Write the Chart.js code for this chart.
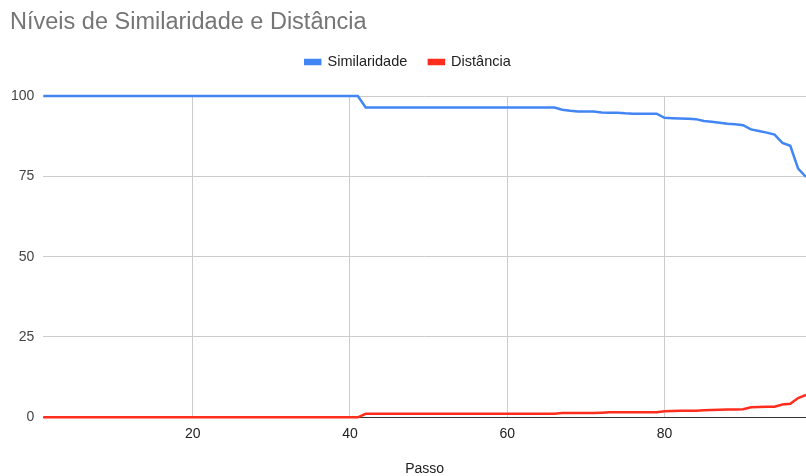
<!DOCTYPE html>
<html lang="pt">
<head>
<meta charset="utf-8">
<title>Níveis de Similaridade e Distância</title>
<script src="https://cdn.jsdelivr.net/npm/chart.js@4.4.1/dist/chart.umd.min.js"></script>
<style>
  html, body { margin: 0; padding: 0; background: #fff; overflow: hidden; }
  canvas { display: block; }
</style>
</head>
<body>
<canvas id="grafico" width="806" height="476"></canvas>
<script>
// passo de 1 a 98 (a planilha corta o resto)
const passos = [
  1, 2, 3, 4, 5, 6, 7, 8, 9, 10, 11, 12, 13, 14, 15, 16, 17, 18, 19, 20,
  21, 22, 23, 24, 25, 26, 27, 28, 29, 30, 31, 32, 33, 34, 35, 36, 37, 38, 39, 40,
  41, 42, 43, 44, 45, 46, 47, 48, 49, 50, 51, 52, 53, 54, 55, 56, 57, 58, 59, 60,
  61, 62, 63, 64, 65, 66, 67, 68, 69, 70, 71, 72, 73, 74, 75, 76, 77, 78, 79, 80,
  81, 82, 83, 84, 85, 86, 87, 88, 89, 90, 91, 92, 93, 94, 95, 96, 97, 98
];

const similaridade = [
  100, 100, 100, 100, 100, 100, 100, 100, 100, 100, 100, 100, 100, 100, 100, 100, 100, 100, 100, 100,
  100, 100, 100, 100, 100, 100, 100, 100, 100, 100, 100, 100, 100, 100, 100, 100, 100, 100, 100, 100,
  100, 96.4, 96.4, 96.4, 96.4, 96.4, 96.4, 96.4, 96.4, 96.4, 96.4, 96.4, 96.4, 96.4, 96.4, 96.4, 96.4, 96.4, 96.4, 96.4,
  96.4, 96.4, 96.4, 96.4, 96.4, 96.4, 95.7, 95.4, 95.2, 95.2, 95.2, 94.9, 94.8, 94.8, 94.6, 94.5, 94.5, 94.5, 94.5, 93.2,
  93.1, 93.0, 92.9, 92.8, 92.2, 92.0, 91.7, 91.4, 91.2, 90.9, 89.6, 89.1, 88.6, 88.0, 85.4, 84.5, 77.4, 74.8
];

const distancia = [
  0, 0, 0, 0, 0, 0, 0, 0, 0, 0, 0, 0, 0, 0, 0, 0, 0, 0, 0, 0,
  0, 0, 0, 0, 0, 0, 0, 0, 0, 0, 0, 0, 0, 0, 0, 0, 0, 0, 0, 0,
  0, 1.1, 1.1, 1.1, 1.1, 1.1, 1.1, 1.1, 1.1, 1.1, 1.1, 1.1, 1.1, 1.1, 1.1, 1.1, 1.1, 1.1, 1.1, 1.1,
  1.1, 1.1, 1.1, 1.1, 1.1, 1.1, 1.3, 1.35, 1.35, 1.35, 1.35, 1.45, 1.55, 1.55, 1.55, 1.55, 1.55, 1.55, 1.55, 1.9,
  1.95, 2.0, 2.0, 2.05, 2.2, 2.3, 2.35, 2.4, 2.45, 2.5, 3.1, 3.2, 3.25, 3.3, 4.0, 4.2, 6.0, 7.0
];

const ticksPasso = [20, 40, 60, 80];
const ticksNivel = [0, 25, 50, 75, 100];

Chart.defaults.font.family = "'Liberation Sans', Arial, sans-serif";
Chart.defaults.color = '#444';

// a legenda fica mais perto do título do que o layout do Chart.js deixa
const subirLegenda = {
  id: 'subirLegenda',
  afterLayout(chart) {
    chart.legend.top -= 16.75;
    chart.legend.bottom -= 16.75;
  }
};

const pontos = valores => passos.map((p, i) => ({ x: p, y: valores[i] }));

new Chart(document.getElementById('grafico'), {
  type: 'line',
  data: {
    datasets: [
      {
        label: 'Similaridade',
        data: pontos(similaridade),
        borderColor: '#4285f4',
        backgroundColor: '#4285f4',
        borderWidth: 2.5,
        pointRadius: 0,
        tension: 0,
        clip: 5
      },
      {
        label: 'Distância',
        data: pontos(distancia),
        borderColor: '#ff2d1e',
        backgroundColor: '#ff2d1e',
        borderWidth: 2.5,
        pointRadius: 0,
        tension: 0,
        clip: 5
      }
    ]
  },
  options: {
    responsive: false,
    animation: false,
    layout: { padding: { left: 10, right: 0, top: 0, bottom: 0 } },
    plugins: {
      title: {
        display: true,
        text: 'Níveis de Similaridade e Distância',
        align: 'start',
        color: '#757575',
        font: { size: 23.5, weight: 'normal' },
        padding: { top: 8.7, bottom: 13 }
      },
      legend: {
        position: 'top',
        align: 'center',
        labels: {
          boxWidth: 15,
          boxHeight: 4,
          padding: 21.6,
          color: '#222',
          font: { size: 14.5 }
        }
      },
      tooltip: { enabled: false }
    },
    scales: {
      x: {
        type: 'linear',
        min: 1,
        max: 98,
        afterBuildTicks: axis => { axis.ticks = ticksPasso.map(v => ({ value: v })); },
        afterFit: axis => { axis.height = 58.7; },
        grid: { color: '#cccccc', drawTicks: false },
        border: { display: true, color: '#333333', width: 1 },
        ticks: { padding: 8, color: '#222', font: { size: 14 } },
        title: {
          display: true,
          text: 'Passo',
          color: '#222',
          font: { size: 14 },
          padding: { top: 0, bottom: -2 }
        }
      },
      y: {
        min: 0,
        max: 100,
        afterBuildTicks: axis => { axis.ticks = ticksNivel.map(v => ({ value: v })); },
        afterFit: axis => { axis.width = 33.3; },
        grid: {
          color: ctx => (ctx.tick && ctx.tick.value === 0 ? '#333333' : '#cccccc'),
          drawTicks: false
        },
        border: { display: false },
        ticks: { padding: 9, color: '#444', font: { size: 14 } }
      }
    }
  },
  plugins: [subirLegenda]
});
</script>
</body>
</html>
